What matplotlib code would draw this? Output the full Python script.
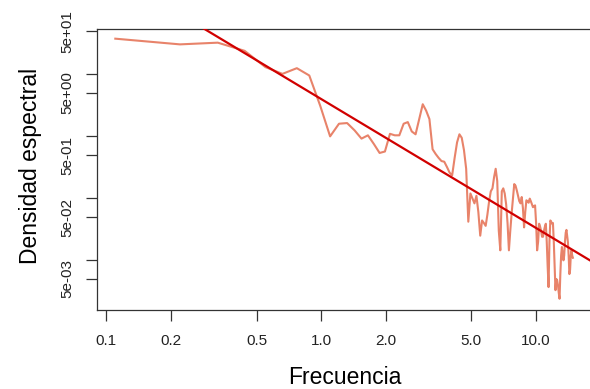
import numpy as np
import matplotlib
matplotlib.use('Agg')
import matplotlib.pyplot as plt
from matplotlib.ticker import FixedLocator, NullLocator

# === DATA ===
FREQ_STEP = 0.11
spec_values = [
    37.7, 30.5, 32.5, 24.0, 13.1, 10.2, 12.6, 9.6, 3.1, 1.0,
    1.6, 1.64, 1.25, 0.92, 1.04, 0.75, 0.54, 0.57, 1.1, 1.04,
    1.04, 1.6, 1.7, 1.2, 1.08, 1.9, 3.3, 2.6, 1.9, 0.62,
    0.52, 0.45, 0.40, 0.39, 0.32, 0.26, 0.235, 0.45, 0.8, 1.08,
    0.95, 0.6, 0.3, 0.042, 0.12, 0.10, 0.083, 0.11, 0.06, 0.025,
    0.044, 0.04, 0.036, 0.055, 0.09, 0.13, 0.145, 0.22, 0.30, 0.19,
    0.03, 0.0145, 0.13, 0.145, 0.12, 0.08, 0.04, 0.0145, 0.03, 0.057,
    0.1, 0.17, 0.16, 0.134, 0.11, 0.09, 0.083, 0.105, 0.07, 0.034,
    0.06, 0.093, 0.09, 0.085, 0.099, 0.09, 0.08, 0.072, 0.075, 0.077,
    0.04, 0.0145, 0.02, 0.039, 0.035, 0.03, 0.024, 0.024, 0.03, 0.035,
    0.039, 0.02, 0.008, 0.0037, 0.02, 0.044, 0.042, 0.039, 0.04, 0.02,
    0.008, 0.0033, 0.005, 0.0048, 0.004, 0.003, 0.0024, 0.006, 0.012, 0.0164,
    0.013, 0.01, 0.012, 0.02, 0.028, 0.031, 0.025, 0.0196, 0.012, 0.006,
    0.007, 0.012, 0.0145, 0.012, 0.011,
]
freq = np.arange(1, len(spec_values) + 1) * FREQ_STEP

# fitted power law: density = fit_coef * freq ** fit_slope
fit_coef = 4.0
fit_slope = -2.08

x_ticks = [0.1, 0.2, 0.5, 1.0, 2.0, 5.0, 10.0]
x_labels = ['0.1', '0.2', '0.5', '1.0', '2.0', '5.0', '10.0']
y_ticks = [5e-3, 1e-2, 5e-2, 1e-1, 5e-1, 1, 5, 10, 50]
y_labels = ['5e-03', '', '5e-02', '', '5e-01', '', '5e+00', '', '5e+01']

XLIM = (0.0904, 18.07)
YLIM = (0.00158, 54.0)

plt.rcParams['font.family'] = ['Liberation Sans', 'DejaVu Sans']

W, H = 590, 389
fig = plt.figure(figsize=(W / 100, H / 100), dpi=100)
left, right, top, bottom = 97, 591.2, 29, 310
ax = fig.add_axes([left / W, 1 - bottom / H, (right - left) / W, (bottom - top) / H])

ax.plot(freq, spec_values, color='#E8836A', linewidth=1.5, zorder=2)

x_line = np.array(XLIM)
ax.plot(x_line, fit_coef * x_line ** fit_slope, color='#D10000', linewidth=1.6, zorder=3)

ax.set_xscale('log')
ax.set_yscale('log')
ax.set_xlim(*XLIM)
ax.set_ylim(*YLIM)

ax.xaxis.set_major_locator(FixedLocator(x_ticks))
ax.set_xticklabels(x_labels)
ax.xaxis.set_minor_locator(NullLocator())
ax.yaxis.set_major_locator(FixedLocator(y_ticks))
ax.set_yticklabels(y_labels)
ax.yaxis.set_minor_locator(NullLocator())
for lab in ax.get_yticklabels():
    lab.set_rotation(90)
    lab.set_va('center')

ax.tick_params(axis='both', length=8, width=0.9, color='#333333',
               labelsize=11, labelcolor='#222222', pad=4)
ax.tick_params(axis='x', pad=9)
ax.tick_params(axis='y', pad=8)

for s in ax.spines.values():
    s.set_color('#333333')
    s.set_linewidth(0.9)
ax.spines['right'].set_visible(False)

fig.text(345 / W, 1 - 377 / H, 'Frecuencia', ha='center', va='center', fontsize=16.5)
fig.text(30 / W, 1 - 166 / H, 'Densidad espectral', ha='center', va='center',
         rotation=90, fontsize=16.5)

fig.savefig('out.png', dpi=100)
